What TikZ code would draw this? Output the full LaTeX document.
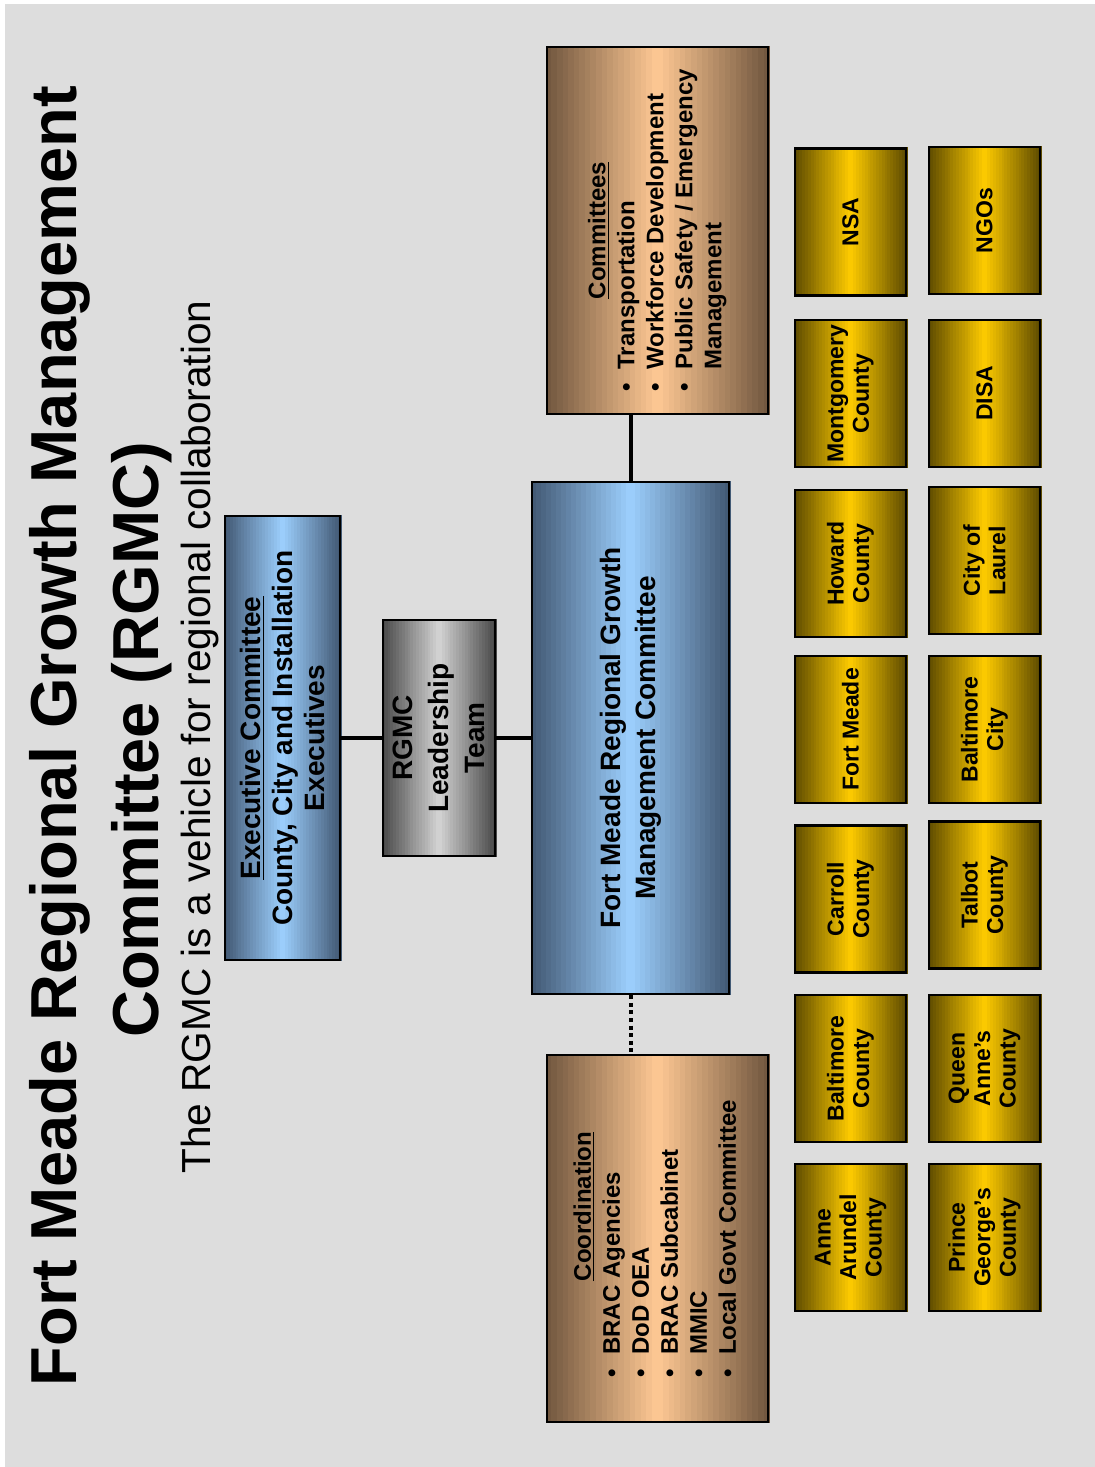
\documentclass[tikz,border=0pt]{standalone}
\usepackage{fontspec}
\setmainfont{Liberation Sans}
\usepackage{xcolor}
\usetikzlibrary{calc}
\usetikzlibrary{backgrounds}

\definecolor{slide}{HTML}{DDDDDD}
\definecolor{goldlt}{HTML}{FFCC00}
\definecolor{golddk}{HTML}{5E4B00}
\definecolor{tanlt}{HTML}{FFC994}
\definecolor{tandk}{HTML}{735840}
\definecolor{greylt}{HTML}{D4D4D4}
\definecolor{greydk}{HTML}{4A4A4A}
\definecolor{bluelt}{HTML}{9DD0FF}
\definecolor{bluedk}{HTML}{435A75}

\newcommand{\fs}[2]{\fontsize{#1}{#2}\selectfont}
% dark-light-dark bands across a (rotated) box, page left to right
\newcommand{\gradbox}[3]{%
  \foreach \k [evaluate=\k as \mix using {abs(\k-19.5)*5.128}] in {0,...,39}
    \fill [#2!\mix!#3] let \p1 = (#1.north west), \p2 = (#1.south east) in
      ({\x1+(\x2-\x1)*\k/40}, \y1) rectangle ({\x1+(\x2-\x1)*(\k+1)/40+0.3pt}, \y2);
}

\begin{document}
\begin{tikzpicture} [
    x=0.5pt, y=-0.5pt,
    box/.style      = { rectangle, draw=black, line width=1.2pt, rotate=90,
                        align=center, inner sep=2pt },
    bluebox/.style  = { box, font=\bfseries\fs{14}{16} },
    greybox/.style  = { box, font=\bfseries\fs{14}{18} },
    tanbox/.style   = { box, font=\bfseries\fs{12}{14.5},
                        minimum width=183.5pt, minimum height=110.5pt },
    member/.style   = { box, font=\bfseries\fs{11.5}{12.75},
                        minimum width=73.5pt, minimum height=55.5pt },
    line/.style     = { draw, line width=2pt },
    dots/.style     = { line, dash pattern=on 2pt off 1.8pt },
  ]
  \useasboundingbox (0,0) rectangle (1095,1467);
  \begin{scope} [on background layer]
    \fill[white] (0,0) rectangle (1095,1467);
    \fill[slide] (5,4) rectangle (1095,1467);
  \end{scope}

  % heading
  \node [rotate=90, anchor=base, font=\bfseries\fs{32.5}{41}] (title1) at (76,736)
        {Fort Meade Regional Growth Management};
  \node [rotate=90, anchor=base, font=\bfseries\fs{32.5}{41}] (title2) at (158,740)
        {Committee (RGMC)};
  \node [rotate=90, anchor=base, font=\fs{20.3}{24}] (subtitle) at (210,737)
        {The RGMC is a vehicle for regional collaboration};

  % committee chain
  \node [bluebox, minimum width=222pt, minimum height=57.5pt] (exec) at (282.5,738)
        {\underline{Executive Committee}\\County, City and Installation\\Executives};
  \node [greybox, minimum width=118pt, minimum height=56pt] (lead) at (439,738)
        {RGMC\\Leadership\\Team};
  \node [bluebox, minimum width=256pt, minimum height=98.5pt,
         font=\bfseries\fs{14}{17.5}] (rgmc) at (630.5,738)
        {Fort Meade Regional Growth\\Management Committee};
  \node [tanbox] (comm) at (657.5,230.5)
        {\begin{tabular}{@{}l@{\hspace{7pt}}l@{}}
           \multicolumn{2}{c}{\underline{Committees}}\\
           \textbullet & Transportation\\
           \textbullet & Workforce Development\\
           \textbullet & Public Safety / Emergency\\
                       & Management
         \end{tabular}};
  \node [tanbox] (coord) at (657.5,1238.5)
        {\begin{tabular}{@{}l@{\hspace{7pt}}l@{}}
           \multicolumn{2}{c}{\hspace{32pt}\underline{Coordination}}\\
           \textbullet & BRAC Agencies\\
           \textbullet & DoD OEA\\
           \textbullet & BRAC Subcabinet\\
           \textbullet & MMIC\\
           \textbullet & Local Govt Committee
         \end{tabular}};

  % members
  \node [member] (anne)       at (850.5,1237.5) {Anne\\Arundel\\County};
  \node [member] (baltco)     at (850.5,1068.5) {Baltimore\\County};
  \node [member] (carroll)    at (850.5,899)    {Carroll\\County};
  \node [member] (ftmeade)    at (850.5,729.5)  {Fort Meade};
  \node [member] (howard)     at (850.5,563.5)  {Howard\\County};
  \node [member] (montgomery) at (850.5,393.5)  {Montgomery\\County};
  \node [member] (nsa)        at (850.5,222)    {NSA};
  \node [member] (prince)     at (984.5,1237.5) {Prince\\George’s\\County};
  \node [member] (queen)      at (984.5,1068.5) {Queen\\Anne’s\\County};
  \node [member] (talbot)     at (984.5,895)    {Talbot\\County};
  \node [member] (baltcity)   at (984.5,729.5)  {Baltimore\\City};
  \node [member] (laurel)     at (984.5,560.5)  {City of\\Laurel};
  \node [member] (disa)       at (984.5,393.5)  {DISA};
  \node [member] (ngos)       at (984.5,220.5)  {NGOs};

  % box colours
  \begin{scope} [on background layer]
    \gradbox{exec}{bluedk}{bluelt}
    \gradbox{rgmc}{bluedk}{bluelt}
    \gradbox{lead}{greydk}{greylt}
    \gradbox{comm}{tandk}{tanlt}
    \gradbox{coord}{tandk}{tanlt}
    \foreach \m in {anne,baltco,carroll,ftmeade,howard,montgomery,nsa,
                    prince,queen,talbot,baltcity,laurel,disa,ngos}
      {\gradbox{\m}{golddk}{goldlt}}
  \end{scope}

  % connect the committees
  \begin{scope} [every path/.style=line]
    \path (exec.south) -- (lead.north);
    \path (lead.south) -- (rgmc.north);
    \path (rgmc.east)  -- (rgmc.east |- comm.west);
  \end{scope}
  \path [dots] (rgmc.west) -- (rgmc.west |- coord.east);
\end{tikzpicture}
\end{document}
